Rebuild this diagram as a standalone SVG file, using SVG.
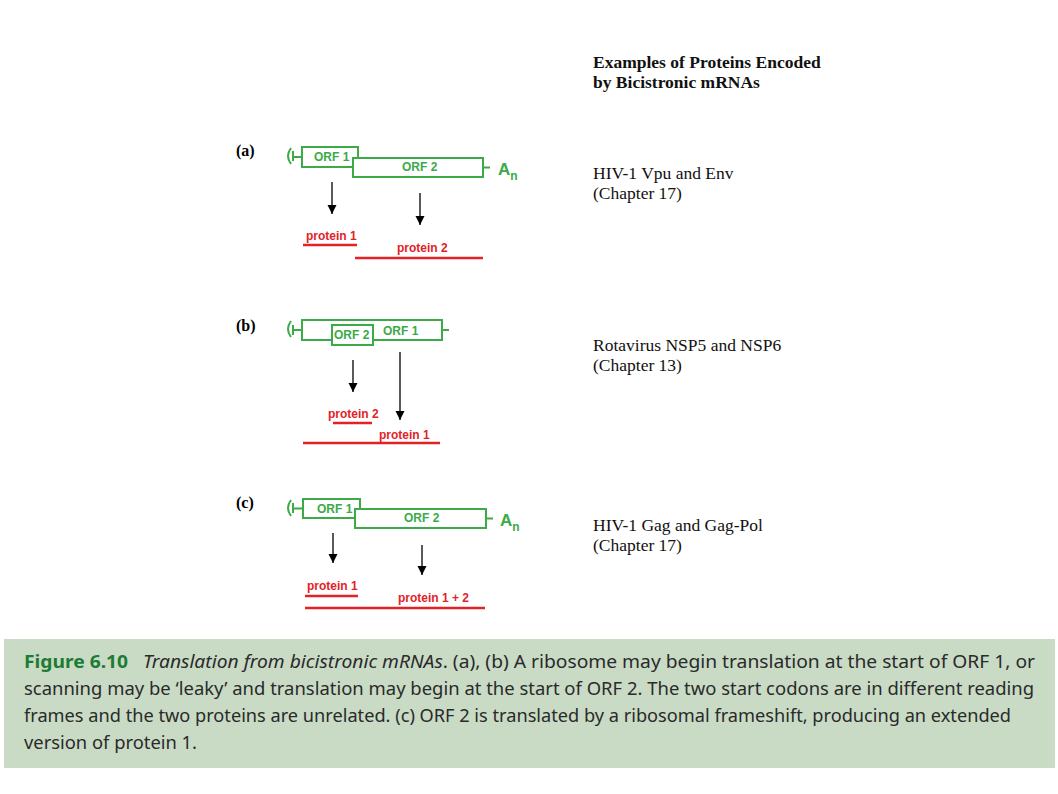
<svg xmlns="http://www.w3.org/2000/svg" width="1058" height="794" viewBox="0 0 1058 794">
<style>
.box{fill:#fff;stroke:#3BAA47;stroke-width:2}
.g{stroke:#3BAA47;stroke-width:2;fill:none}
.orf{font-family:"Liberation Sans",Arial,sans-serif;font-weight:bold;font-size:12px;fill:#3BAA47}
.an{font-family:"Liberation Sans",Arial,sans-serif;font-weight:bold;font-size:17px;fill:#3BAA47}
.sub{font-size:12px}
.prot{font-family:"Liberation Sans",Arial,sans-serif;font-weight:bold;font-size:12px;fill:#E32227}
.rl{stroke:#E32227;stroke-width:2.5}
.arr{stroke:#000;stroke-width:1.3;marker-end:url(#ah)}
.lab{font-family:"Liberation Serif","Times New Roman",serif;font-weight:bold;font-size:16px;fill:#000}
.ex{font-family:"Liberation Serif","Times New Roman",serif;font-size:17.5px;fill:#111}
.exb{font-weight:bold}
.cap{font-family:"Noto Sans","DejaVu Sans",sans-serif;font-size:18px;fill:#2a2a2a}
</style>
<defs>
<marker id="ah" markerUnits="userSpaceOnUse" markerWidth="9" markerHeight="11" refX="9" refY="4.5" orient="auto" viewBox="0 0 9 9">
<path d="M0,0 L9,4.5 L0,9 z" fill="#000"/>
</marker>
</defs>
<rect width="1058" height="794" fill="#fff"/>

<g id="header">
<text class="ex exb" x="593" y="68">Examples of Proteins Encoded</text>
<text class="ex exb" x="593" y="88">by Bicistronic mRNAs</text>
</g>

<g id="panel-a">
<text class="lab" x="236" y="156">(a)</text>
<path class="g" d="M291,148 Q285,156 291,164 M293,151 V161 M293,157 H302 M483,167.5 H490"/>
<rect class="box" x="302" y="147" width="56" height="20"/>
<rect class="box" x="353" y="158" width="130" height="19"/>
<text class="orf" x="314" y="161">ORF 1</text>
<text class="orf" x="402" y="171">ORF 2</text>
<text class="an" x="498" y="175">A<tspan class="sub" dy="5">n</tspan></text>
<text class="prot" x="306" y="240">protein 1</text>
<line class="rl" x1="303" y1="245" x2="357" y2="245"/>
<text class="prot" x="397" y="252">protein 2</text>
<line class="rl" x1="355" y1="258" x2="483" y2="258"/>
<text class="ex" x="593" y="179">HIV-1 Vpu and Env</text>
<text class="ex" x="593" y="199">(Chapter 17)</text>
</g>

<g id="panel-b">
<text class="lab" x="236" y="331">(b)</text>
<path class="g" d="M291,321 Q285,329 291,337 M293,325 V335 M293,330 H302 M442,330 H449"/>
<rect class="box" x="302" y="320" width="140" height="20"/>
<rect class="box" x="332" y="325" width="41" height="20"/>
<text class="orf" x="334" y="339">ORF 2</text>
<text class="orf" x="383" y="335">ORF 1</text>
<text class="prot" x="328" y="418">protein 2</text>
<line class="rl" x1="333" y1="423" x2="372" y2="423"/>
<text class="prot" x="379" y="439">protein 1</text>
<line class="rl" x1="303" y1="443" x2="440" y2="443"/>
<text class="ex" x="593" y="351">Rotavirus NSP5 and NSP6</text>
<text class="ex" x="593" y="371">(Chapter 13)</text>
</g>

<g id="panel-c">
<text class="lab" x="236" y="508">(c)</text>
<path class="g" d="M291,500 Q285,508 291,516 M293,503 V513 M293,508.5 H303 M486,518.5 H493"/>
<rect class="box" x="303" y="499" width="57" height="19"/>
<rect class="box" x="355" y="509" width="131" height="19"/>
<text class="orf" x="317" y="513">ORF 1</text>
<text class="orf" x="404" y="522">ORF 2</text>
<text class="an" x="500" y="526">A<tspan class="sub" dy="5">n</tspan></text>
<text class="prot" x="307" y="590">protein 1</text>
<line class="rl" x1="305" y1="596" x2="358" y2="596"/>
<text class="prot" x="398" y="602">protein 1 + 2</text>
<line class="rl" x1="305" y1="608" x2="485" y2="608"/>
<text class="ex" x="593" y="531">HIV-1 Gag and Gag-Pol</text>
<text class="ex" x="593" y="551">(Chapter 17)</text>
</g>

<g id="connectors">
<line class="arr" x1="332" y1="182" x2="332" y2="214"/>
<line class="arr" x1="420" y1="193" x2="420" y2="225"/>
<line class="arr" x1="353" y1="360" x2="353" y2="392"/>
<line class="arr" x1="400" y1="352" x2="400" y2="420"/>
<line class="arr" x1="333" y1="533" x2="333" y2="563"/>
<line class="arr" x1="422" y1="545" x2="422" y2="575"/>
</g>

<g id="caption">
<rect x="4" y="639" width="1051" height="129" fill="#C9DBC5"/>
<text class="cap" x="24" y="668" textLength="1011" lengthAdjust="spacingAndGlyphs"><tspan font-weight="bold" fill="#1E7B34">Figure 6.10</tspan><tspan font-style="italic" dx="14">Translation from bicistronic mRNAs</tspan>. (a), (b) A ribosome may begin translation at the start of ORF 1, or</text>
<text class="cap" x="24" y="695" textLength="1010" lengthAdjust="spacingAndGlyphs">scanning may be ‘leaky’ and translation may begin at the start of ORF 2. The two start codons are in different reading</text>
<text class="cap" x="24" y="722" textLength="987" lengthAdjust="spacingAndGlyphs">frames and the two proteins are unrelated. (c) ORF 2 is translated by a ribosomal frameshift, producing an extended</text>
<text class="cap" x="24" y="749" textLength="173" lengthAdjust="spacingAndGlyphs">version of protein 1.</text>
</g>
</svg>
